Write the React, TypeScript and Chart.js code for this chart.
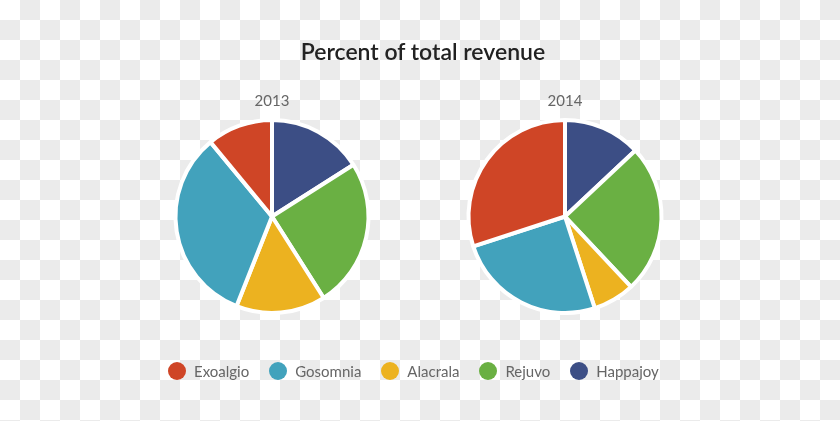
import React, { useEffect, useRef } from "react";
import { Chart, registerables } from "chart.js";

Chart.register(...registerables);

const brands = ["Exoalgio", "Gosomnia", "Alacrala", "Rejuvo", "Happajoy"];
const colors = ["#cf4526", "#42a2bc", "#ecb220", "#6ab043", "#3c4e85"];
const chartTitle = "Percent of total revenue";
const years = ["2013", "2014"];
const share2013 = [11, 33, 15, 25, 16];
const share2014 = [30, 25, 7, 25, 13];

function Pie({ title, values, left }: { title: string; values: number[]; left: number }) {
  const ref = useRef<HTMLCanvasElement | null>(null);
  useEffect(() => {
    // drawn clockwise from the top in reverse legend order
    const order = brands.map((_, i) => i).reverse();
    const chart = new Chart(ref.current as HTMLCanvasElement, {
      type: "pie",
      data: {
        labels: order.map((i) => brands[i]),
        datasets: [
          {
            data: order.map((i) => values[i]),
            backgroundColor: order.map((i) => colors[i]),
            borderColor: "#ffffff",
            borderWidth: 4,
            hoverOffset: 0,
            hoverBorderWidth: 4,
          },
        ],
      },
      options: {
        animation: false,
        responsive: false,
        maintainAspectRatio: false,
        events: [],
        layout: { padding: 0 },
        plugins: {
          legend: { display: false },
          tooltip: { enabled: false },
          title: {
            display: true,
            text: title,
            color: "#666666",
            font: { family: "Lato", size: 15, weight: "normal" },
            padding: { top: 0, bottom: 8 },
          },
        },
      },
    });
    return () => chart.destroy();
  }, [title, values]);
  return (
    <canvas
      ref={ref}
      width={240}
      height={223}
      style={{ position: "absolute", left, top: 92, width: 240, height: 223 }}
    />
  );
}

export default function App() {
  return (
    <div
      style={{
        position: "fixed",
        left: 0,
        top: 0,
        width: 840,
        height: 421,
        overflow: "hidden",
        background: "repeating-conic-gradient(#ebebeb 0 25%, #ffffff 0 50%) 0 0 / 40px 40px",
        fontFamily: "Lato, sans-serif",
      }}
    >
      <div
        style={{
          position: "absolute",
          left: 0,
          top: 37,
          width: 846,
          textAlign: "center",
          fontSize: 23,
          lineHeight: "28px",
          fontWeight: 600,
          color: "#222222",
        }}
      >
        {chartTitle}
      </div>
      <Pie title={years[0]} values={share2013} left={152} />
      <Pie title={years[1]} values={share2014} left={445} />
      <div
        style={{
          position: "absolute",
          left: 168,
          top: 361,
          height: 20,
          display: "flex",
          alignItems: "center",
        }}
      >
        {brands.map((b, i) => (
          <div key={b} style={{ display: "flex", alignItems: "center", marginRight: 20 }}>
            <span
              style={{
                display: "inline-block",
                width: 18,
                height: 18,
                borderRadius: 9,
                background: colors[i],
                marginRight: 8,
              }}
            />
            <span style={{ fontSize: 15, color: "#666666", lineHeight: "20px" }}>{b}</span>
          </div>
        ))}
      </div>
    </div>
  );
}
